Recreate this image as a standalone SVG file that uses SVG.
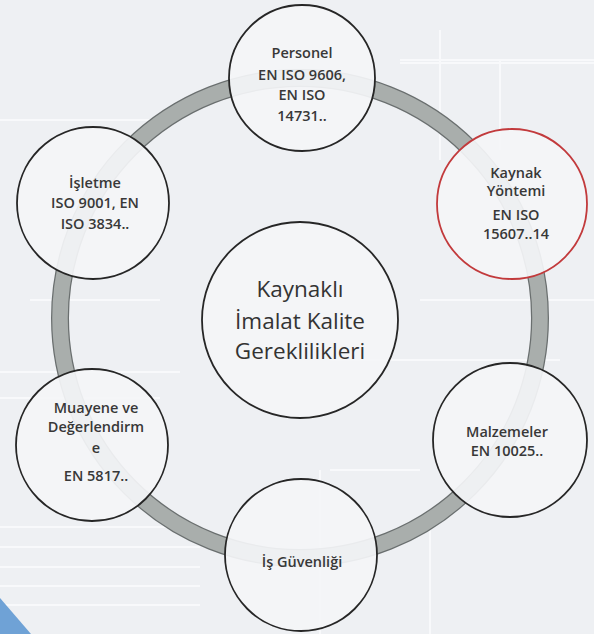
<svg xmlns="http://www.w3.org/2000/svg" width="594" height="634" viewBox="0 0 594 634">
<defs>
<style>
.bg{fill:#eef0f3}
.grid{stroke:#f8f9fb;stroke-width:2;fill:none}
.node{fill:#f4f5f7;fill-opacity:0.92;stroke:#262626;stroke-width:1.8}
.red{stroke:#c23a3c}
.t{font-family:"Open Sans","Noto Sans",sans-serif;font-weight:600;font-size:14.5px;fill:#383838;text-anchor:middle}
.c{font-family:"Open Sans","Noto Sans",sans-serif;font-weight:400;font-size:22.5px;fill:#333;text-anchor:middle}
</style>
</defs>
<rect class="bg" x="0" y="0" width="594" height="634"/>
<g id="background">
<path class="grid" d="M0 527H200M0 547H200M0 567H200M0 586H200M0 605H200M0 372H180M0 398H160M400 60H594M400 63H594M0 120H150M30 300H160M330 360H560M330 470H420M440 30V160M500 60V150M320 470V634M430 520V634M420 300H594"/>
<polygon points="0,598 31,634 0,634" fill="#6fa2d6"/>
</g>
<g id="connectors">
<circle cx="300" cy="318" r="240" fill="none" stroke="#6a6f6f" stroke-width="18"/>
<circle cx="300" cy="318" r="240" fill="none" stroke="#a9aeac" stroke-width="15.5"/>
</g>
<g id="center">
<circle class="node" cx="300" cy="320" r="98"/>
<text class="c" x="300" y="297">Kaynaklı</text>
<text class="c" x="300" y="329">İmalat Kalite</text>
<text class="c" x="300" y="359">Gereklilikleri</text>
</g>
<g id="personel">
<circle class="node" cx="302" cy="78" r="73"/>
<text class="t" x="302" y="58">Personel</text>
<text class="t" x="302" y="80">EN ISO 9606,</text>
<text class="t" x="302" y="100">EN ISO</text>
<text class="t" x="302" y="121">14731..</text>
</g>
<g id="kaynak-yontemi">
<circle class="node red" cx="512" cy="204" r="75"/>
<text class="t" x="516" y="178">Kaynak</text>
<text class="t" x="516" y="196">Yöntemi</text>
<text class="t" x="516" y="220">EN ISO</text>
<text class="t" x="516" y="239">15607..14</text>
</g>
<g id="malzemeler">
<circle class="node" cx="510" cy="440" r="77"/>
<text class="t" x="507" y="437">Malzemeler</text>
<text class="t" x="507" y="456">EN 10025..</text>
</g>
<g id="is-guvenligi">
<circle class="node" cx="301" cy="555" r="76"/>
<text class="t" x="302" y="567">İş Güvenliği</text>
</g>
<g id="muayene">
<circle class="node" cx="92" cy="445" r="76"/>
<text class="t" x="96" y="413">Muayene ve</text>
<text class="t" x="96" y="432">Değerlendirm</text>
<text class="t" x="96" y="453">e</text>
<text class="t" x="96" y="481">EN 5817..</text>
</g>
<g id="isletme">
<circle class="node" cx="93" cy="203" r="76"/>
<text class="t" x="95" y="188">İşletme</text>
<text class="t" x="95" y="208">ISO 9001, EN</text>
<text class="t" x="95" y="229">ISO 3834..</text>
</g>
</svg>
